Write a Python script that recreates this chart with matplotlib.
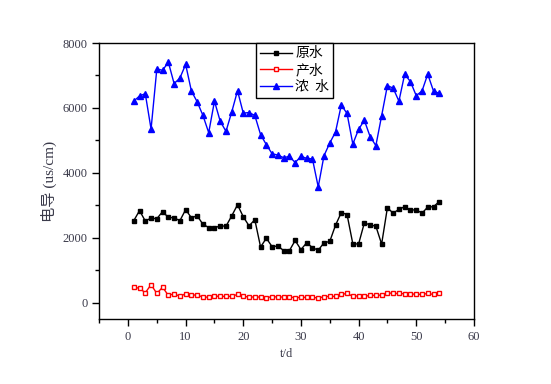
import matplotlib
matplotlib.use("Agg")
import matplotlib.pyplot as plt
import numpy as np

# days
t = np.arange(1, 55)

# 原水 (raw water)
raw = [2530, 2840, 2520, 2610, 2590, 2810, 2630, 2620, 2530, 2870,
       2620, 2680, 2420, 2320, 2310, 2370, 2360, 2680, 3020, 2650,
       2370, 2560, 1720, 1990, 1730, 1750, 1610, 1610, 1920, 1640,
       1850, 1700, 1620, 1850, 1890, 2390, 2780, 2720, 1820, 1810,
       2460, 2400, 2360, 1810, 2930, 2760, 2880, 2960, 2850, 2870,
       2760, 2950, 2960, 3120]

# 产水 (product water)
product = [480, 450, 310, 560, 290, 480, 230, 280, 200, 280,
           230, 250, 170, 180, 210, 200, 200, 200, 260, 200,
           180, 180, 180, 160, 190, 180, 180, 180, 160, 170,
           170, 170, 150, 190, 200, 200, 260, 290, 200, 220,
           200, 230, 230, 240, 310, 290, 290, 280, 270, 270,
           260, 290, 260, 310]

# 浓水 (concentrate)
conc = [6210, 6370, 6440, 5350, 7200, 7160, 7410, 6750, 6920, 7340,
        6520, 6190, 5770, 5240, 6210, 5590, 5280, 5880, 6530, 5840,
        5860, 5770, 5180, 4870, 4590, 4550, 4470, 4510, 4320, 4510,
        4450, 4430, 3570, 4530, 4920, 5260, 6090, 5830, 4890, 5340,
        5620, 5120, 4840, 5760, 6690, 6610, 6210, 7040, 6810, 6380,
        6520, 7040, 6520, 6450]

labels = ['原水', '产水', '浓  水']

cjk = ['Noto Sans CJK SC', 'DejaVu Sans']
serif_cjk = ['Liberation Serif', 'Noto Sans CJK SC']

fig = plt.figure(figsize=(5.51, 3.84), dpi=100)
ax = fig.add_axes([0.18, 0.169, 0.68, 0.719])

ax.plot(t, raw, color='black', marker='s', markersize=2.8, linewidth=1, label=labels[0])
ax.plot(t, product, color='red', marker='s', markersize=3.2, markerfacecolor='white',
        markeredgecolor='red', markeredgewidth=1, linewidth=1, label=labels[1])
ax.plot(t, conc, color='blue', marker='^', markersize=4.2, linewidth=1, label=labels[2])

ax.set_xlim(-5, 60)
ax.set_ylim(-500, 8000)
ax.set_xticks([0, 10, 20, 30, 40, 50, 60])
ax.set_xticks(np.arange(-5, 60, 10), minor=True)
ax.set_yticks([0, 2000, 4000, 6000, 8000])
ax.set_yticks([1000, 3000, 5000, 7000], minor=True)

ax.tick_params(axis='both', which='major', direction='out', length=5, width=1,
               labelsize=9, labelcolor='#3a3a4a', top=False, right=False)
ax.tick_params(axis='both', which='minor', direction='out', length=3, width=1,
               top=False, right=False)
for lab in ax.get_xticklabels() + ax.get_yticklabels():
    lab.set_family('Liberation Serif')

for s in ax.spines.values():
    s.set_linewidth(1)
    s.set_color('black')

ax.set_xlabel('t/d', family='Liberation Serif', fontsize=9, color='#3a3a4a', labelpad=4)
ax.set_ylabel('电导 (us/cm)', family=serif_cjk, fontsize=11, color='#3a3a4a', labelpad=4)

leg = ax.legend(loc='upper left', bbox_to_anchor=(0.419, 1.0), borderaxespad=0,
                prop={'family': cjk, 'size': 10}, handlelength=2.3, handletextpad=0.25,
                labelspacing=0.2, borderpad=0.25, fancybox=False, framealpha=1)
leg.get_frame().set_edgecolor('black')
leg.get_frame().set_linewidth(1)

plt.savefig('out.png', dpi=100)
